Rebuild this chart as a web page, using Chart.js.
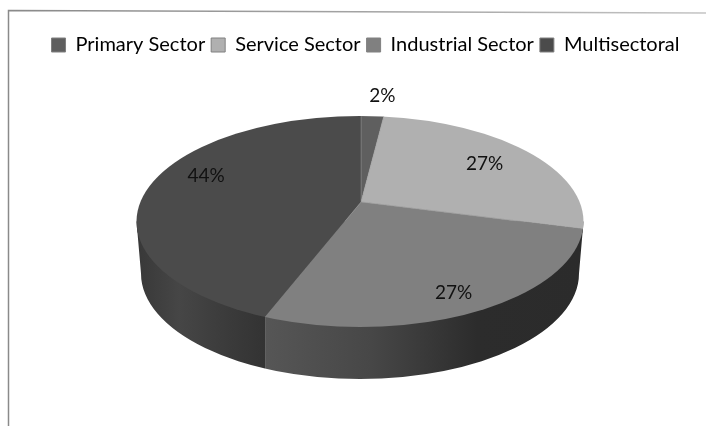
<!DOCTYPE html>
<html>
<head>
<meta charset="utf-8">
<style>
  html, body { margin: 0; padding: 0; background: #fff; }
  #wrap { width: 706px; height: 426px; }
</style>
<script src="https://cdn.jsdelivr.net/npm/chart.js@4"></script>
</head>
<body>
<div id="wrap"><canvas id="myChart" width="706" height="426"></canvas></div>
<script>
const categories = ['Primary Sector', 'Service Sector', 'Industrial Sector', 'Multisectoral'];
const shares = [2, 27, 27, 44];
const topColors = ['#5f5f5f', '#b0b0b0', '#808080', '#4b4b4b'];

// the look of the fake 3d disc
const squash = 0.475;
const pieShift = -4.5; // legend sits a bit right of the pie
const rimW = 223.5, rimH = 105.5, rimDrop = 19.5, rimLeft = -1;
const depth = 52, bottomW = 219;
const sideShades = [
  ['#444444', '#444444'],
  ['#2c2c2c', '#2c2c2c'],
  ['#565656', '#474747', '#2c2c2c', '#2b2b2b'],
  ['#383838', '#464646', '#3c3c3c', '#333333']
];
// where each label sits: f = fraction of the way from centre to rim, then a nudge
const labelPlace = [
  { f: 1, dx: 10, dy: -20 },
  { f: 0.76, dx: 0, dy: 2 },
  { f: 0.79, dx: 0, dy: 5 },
  { f: 0.74, dx: 0, dy: -12 }
];

function rimHit(arc, angle) {
  // walk from the slice apex along its edge until we leave the rim ellipse
  var cx = arc.x + rimLeft, cy = arc.y + rimDrop;
  var ux = Math.cos(angle), uy = Math.sin(angle) * squash;
  var t = 0;
  while (t < 400) {
    var a = (arc.x + ux * t - cx) / rimW, b = (arc.y + uy * t - cy) / rimH;
    if (a * a + b * b >= 1) break;
    t += 0.5;
  }
  return { x: arc.x + ux * t, y: arc.y + uy * t };
}

const disc3d = {
  id: 'disc3d',
  beforeDraw(chart) {
    const c = chart.ctx;
    c.save();
    // frame of the original figure, only left and top survive the crop
    const g = c.createLinearGradient(8, 0, 706, 0);
    g.addColorStop(0, '#8a8a8a');
    g.addColorStop(0.6, '#a8a8a8');
    g.addColorStop(1, '#c4c4c4');
    c.strokeStyle = g;
    c.lineWidth = 1.5;
    c.beginPath();
    c.moveTo(8.5, 426);
    c.lineTo(8.5, 10.5);
    c.lineTo(706, 13);
    c.stroke();
    c.restore();
  },
  beforeDatasetsDraw(chart) {
    const c = chart.ctx;
    const arcs = chart.getDatasetMeta(0).data;
    const cx = arcs[0].x + rimLeft, cy = arcs[0].y + rimDrop;

    c.save();
    c.translate(pieShift, 0);

    arcs.forEach(function(arc, i) {
      const a = rimHit(arc, arc.startAngle), b = rimHit(arc, arc.endAngle);
      if (a.y < cy && b.y < cy) return;
      const xR = a.y >= cy ? a.x : cx + rimW;
      const xL = b.y >= cy ? b.x : cx - rimW;
      const g = c.createLinearGradient(xL, 0, xR, 0);
      sideShades[i].forEach(function(col, n, all) {
        g.addColorStop(n / (all.length - 1), col);
      });
      c.save();
      c.beginPath();
      c.rect(xL, 0, xR - xL, chart.height);
      c.clip();
      c.fillStyle = g;
      c.beginPath();
      c.moveTo(cx - rimW, cy);
      c.lineTo(cx + rimW, cy);
      c.lineTo(cx + bottomW, cy + depth);
      c.ellipse(cx, cy + depth, bottomW, rimH, 0, 0, Math.PI, false);
      c.closePath();
      c.fill();
      // the front half of the top rim has to be filled too
      c.beginPath();
      c.ellipse(cx, cy, rimW, rimH, 0, 0, Math.PI, false);
      c.fill();
      c.restore();
    });

    // top face: arcs are squashed and cut by the rim, apex stays off centre
    c.save();
    c.beginPath();
    c.ellipse(cx, cy, rimW, rimH, 0, 0, Math.PI * 2);
    c.clip();
    c.translate(arcs[0].x, arcs[0].y);
    c.scale(1, squash);
    c.translate(-arcs[0].x, -arcs[0].y);
  },
  afterDatasetsDraw(chart) {
    const c = chart.ctx;
    c.restore();
    const arcs = chart.getDatasetMeta(0).data;
    c.font = '19px Lato';
    c.fillStyle = '#111111';
    c.textAlign = 'center';
    c.textBaseline = 'middle';
    arcs.forEach(function(arc, i) {
      const mid = (arc.startAngle + arc.endAngle) / 2;
      const rim = rimHit(arc, mid);
      const p = labelPlace[i];
      const x = arc.x + (rim.x - arc.x) * p.f + p.dx;
      const y = arc.y + (rim.y - arc.y) * p.f + p.dy;
      c.fillText(shares[i] + '%', x, y);
    });
    c.restore();
  }
};

new Chart(document.getElementById('myChart'), {
  type: 'pie',
  plugins: [disc3d],
  data: {
    labels: categories,
    datasets: [{
      data: shares,
      backgroundColor: topColors,
      borderColor: 'rgba(150,150,150,0.55)',
      borderWidth: 1,
      radius: 300,
      clip: false
    }]
  },
  options: {
    responsive: false,
    animation: false,
    layout: { padding: { top: 29, left: 25, bottom: 87 } },
    plugins: {
      tooltip: { enabled: false },
      legend: {
        position: 'top',
        labels: {
          color: '#111111',
          font: { family: 'Lato', size: 20 },
          boxWidth: 14,
          boxHeight: 14,
          padding: 6,
          generateLabels(chart) {
            return categories.map(function(name, i) {
              return { text: name, fillStyle: topColors[i], strokeStyle: '#808080', lineWidth: 1, index: i };
            });
          }
        }
      }
    }
  }
});
</script>
</body>
</html>
